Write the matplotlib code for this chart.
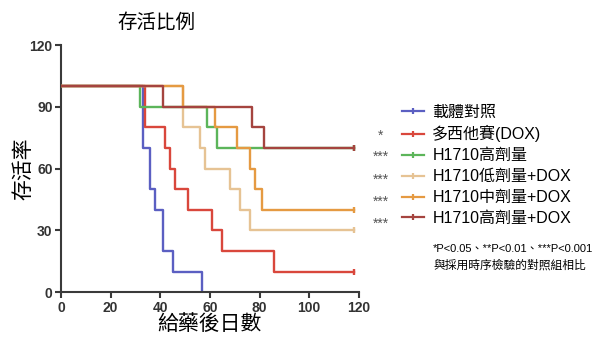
import matplotlib
matplotlib.use('Agg')
import matplotlib.pyplot as plt
from matplotlib.lines import Line2D

plt.rcParams['font.family'] = ['Liberation Sans', 'Noto Sans CJK TC', 'DejaVu Sans']

# 存活資料 (天數, 存活率%)
labels = ['載體對照', '多西他賽(DOX)', 'H1710高劑量',
          'H1710低劑量+DOX', 'H1710中劑量+DOX', 'H1710高劑量+DOX']
stars  = ['', '*', '***', '***', '***', '***']
colors = ['#5b5fc2', '#d9473c', '#5cb55a', '#e6c394', '#e59a42', '#a5443f']

days_vehicle = [0, 33, 36, 38, 41, 45, 57]
surv_vehicle = [100, 70, 50, 40, 20, 10, 0]
days_dox     = [0, 34, 42, 44, 46, 51, 61, 65, 86, 118]
surv_dox     = [100, 80, 70, 60, 50, 40, 30, 20, 10, 10]
days_high    = [0, 32, 59, 63, 118]
surv_high    = [100, 90, 80, 70, 70]
days_low_dox = [0, 49, 56, 58, 68, 72, 76, 118]
surv_low_dox = [100, 80, 70, 60, 50, 40, 30, 30]
days_mid_dox = [0, 49, 62, 71, 76, 78, 81, 118]
surv_mid_dox = [100, 90, 80, 70, 60, 50, 40, 40]
days_hi_dox  = [0, 41, 77, 82, 118]
surv_hi_dox  = [100, 90, 80, 70, 70]

series = [(days_vehicle, surv_vehicle), (days_dox, surv_dox), (days_high, surv_high),
          (days_low_dox, surv_low_dox), (days_mid_dox, surv_mid_dox), (days_hi_dox, surv_hi_dox)]

fig = plt.figure(figsize=(5.95, 3.39), dpi=100)
ax = fig.add_axes([0.1025, 0.138, 0.5005, 0.729])

for i, (d, s) in enumerate(series):
    ax.step(d, s, where='post', color=colors[i], lw=1.7, zorder=2 + i)
    if i > 0:
        ax.plot(d[-1], s[-1], marker='|', ms=5, mew=1.7, color=colors[i], zorder=2 + i)

ax.set_xlim(0, 120)
ax.set_ylim(0, 120)
ax.set_xticks(range(0, 121, 20))
ax.set_yticks(range(0, 121, 30))
for sp in ['top', 'right']:
    ax.spines[sp].set_visible(False)
for sp in ['left', 'bottom']:
    ax.spines[sp].set_linewidth(1.5)
    ax.spines[sp].set_color('#3a3a3a')
ax.tick_params(width=1.5, length=4, color='#3a3a3a', labelsize=10, labelcolor='#333333', pad=2)
for t in ax.get_xticklabels() + ax.get_yticklabels():
    t.set_fontweight('bold')

ax.set_title('存活比例', fontsize=14, x=0.32, pad=12)
ax.set_ylabel('存活率', fontsize=15)
ax.yaxis.set_label_coords(-0.094, 0.5)
ax.set_xlabel('給藥後日數', fontsize=15, labelpad=0)

handles = [Line2D([], [], color=c, lw=1.6, marker='|', ms=5, mew=1.6) for c in colors]
leg = fig.legend(handles, labels, loc='upper left', bbox_to_anchor=(0.665, 0.711),
                 frameon=False, fontsize=11.5, handlelength=1.4, handletextpad=0.5,
                 labelspacing=0.37, borderaxespad=0)

row_y = [110, 133, 154, 177, 199, 221]
for st, y in zip(stars, row_y):
    if st:
        fig.text(381 / 595, 1 - (y + 3) / 339, st, ha='center', va='center', fontsize=10,
                 color='#555555')

fig.text(433 / 595, 1 - 249 / 339, '*P<0.05、**P<0.01、***P<0.001', fontsize=8, va='center')
fig.text(433 / 595, 1 - 266 / 339, '與採用時序檢驗的對照組相比', fontsize=8.5, va='center')

fig.savefig('out.png', dpi=100)
